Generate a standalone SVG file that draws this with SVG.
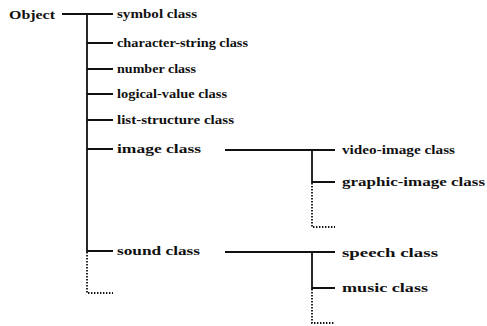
<svg xmlns="http://www.w3.org/2000/svg" width="487" height="326" viewBox="0 0 487 326">
<style>
text{font-family:"Liberation Serif","DejaVu Serif",serif;font-weight:bold;font-size:13px;fill:#111}
.l{stroke:#111;stroke-width:1.8;fill:none}
.d{stroke:#111;stroke-width:1.8;fill:none;stroke-dasharray:1.4 1.6}
</style>
<rect width="487" height="326" fill="#fff"/>
<g id="connectors">
<path class="l" d="M62 14H113M87 14V251H113M87 43H113M87 69H113M87 94H113M87 120H113M87 149H113"/>
<path class="d" d="M87 252V293H113"/>
<path class="l" d="M225 150H335M312 150V182H335"/>
<path class="d" d="M312 183V227H335"/>
<path class="l" d="M225 252H335M312 252V288H335"/>
<path class="d" d="M312 289V323H335"/>
</g>
<g id="object"><text x="9" y="19" textLength="46" lengthAdjust="spacingAndGlyphs">Object</text></g>
<g id="symbol"><text x="117" y="18" textLength="80" lengthAdjust="spacingAndGlyphs">symbol class</text></g>
<g id="character-string"><text x="117" y="47" textLength="131" lengthAdjust="spacingAndGlyphs">character-string class</text></g>
<g id="number"><text x="117" y="73" textLength="79" lengthAdjust="spacingAndGlyphs">number class</text></g>
<g id="logical-value"><text x="117" y="98" textLength="110" lengthAdjust="spacingAndGlyphs">logical-value class</text></g>
<g id="list-structure"><text x="117" y="124" textLength="117" lengthAdjust="spacingAndGlyphs">list-structure class</text></g>
<g id="image"><text x="117" y="153" textLength="84" lengthAdjust="spacingAndGlyphs">image class</text></g>
<g id="sound"><text x="117" y="255" textLength="83" lengthAdjust="spacingAndGlyphs">sound class</text></g>
<g id="video-image"><text x="342" y="154" textLength="113" lengthAdjust="spacingAndGlyphs">video-image class</text></g>
<g id="graphic-image"><text x="342" y="186" textLength="143" lengthAdjust="spacingAndGlyphs">graphic-image class</text></g>
<g id="speech"><text x="342" y="257" textLength="96" lengthAdjust="spacingAndGlyphs">speech class</text></g>
<g id="music"><text x="342" y="292" textLength="86" lengthAdjust="spacingAndGlyphs">music class</text></g>
</svg>
